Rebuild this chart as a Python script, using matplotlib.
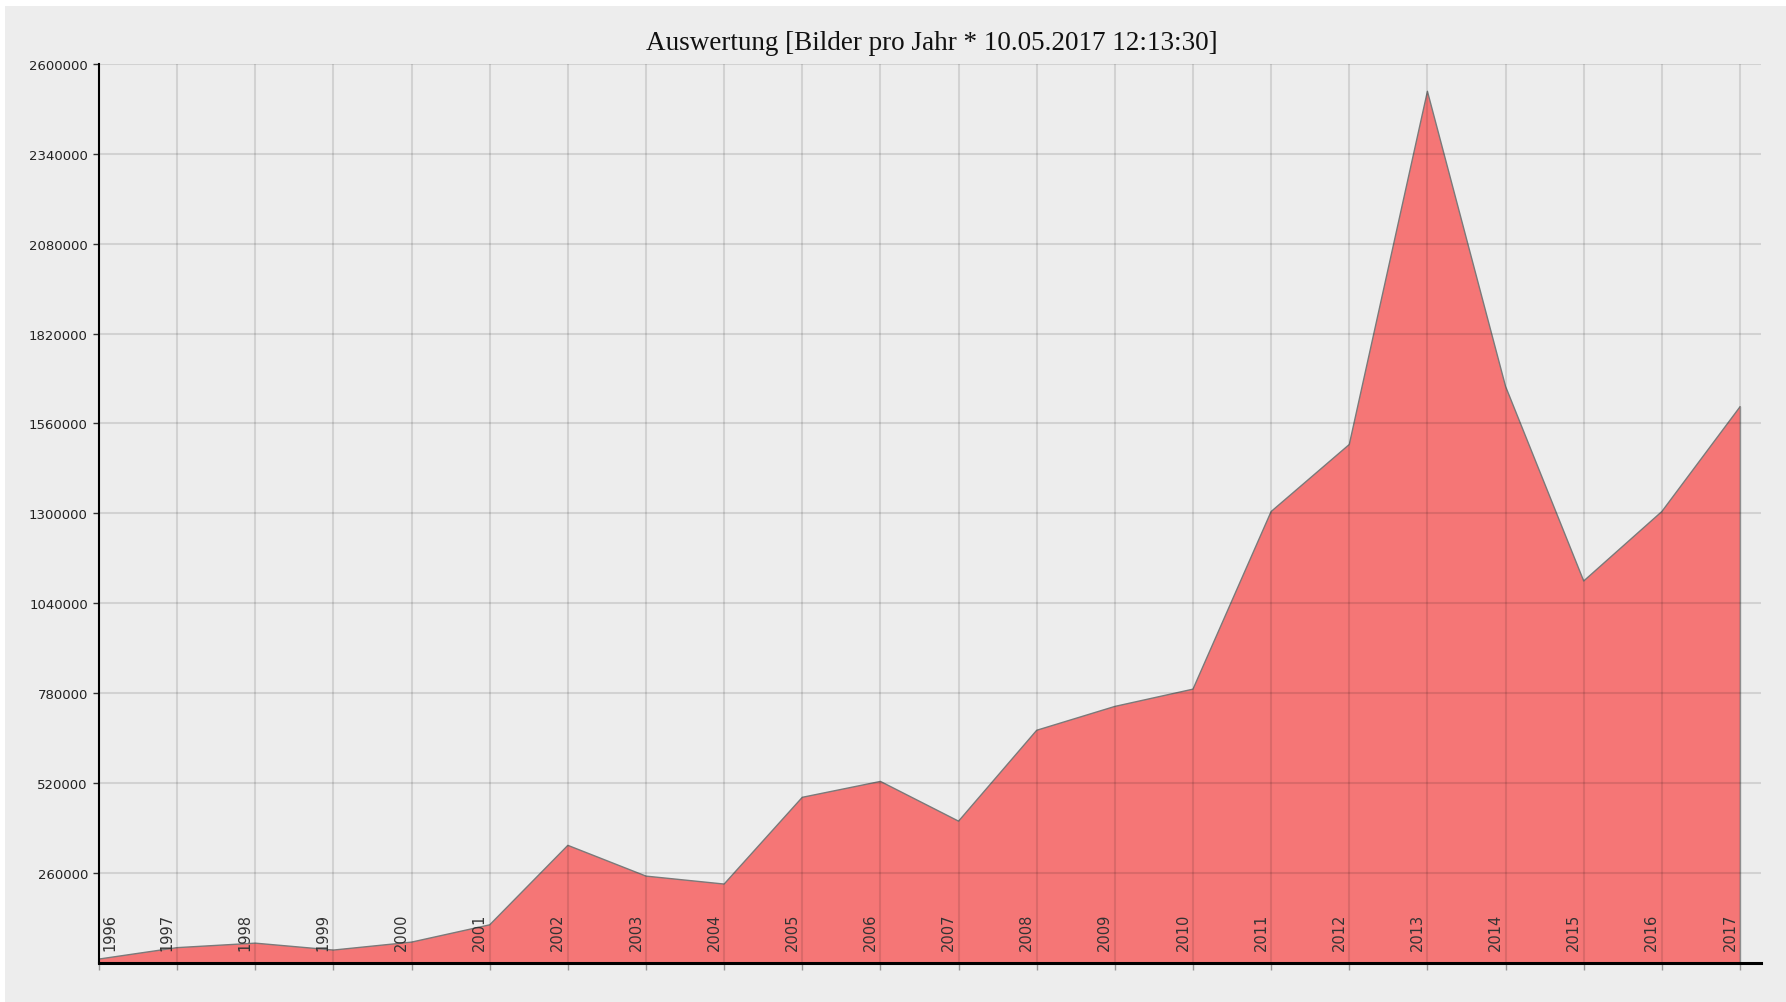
import matplotlib
matplotlib.use("Agg")
import matplotlib.pyplot as plt
import matplotlib.transforms as mtransforms
from matplotlib.patches import Rectangle

years = [1996, 1997, 1998, 1999, 2000, 2001, 2002, 2003, 2004, 2005, 2006,
         2007, 2008, 2009, 2010, 2011, 2012, 2013, 2014, 2015, 2016, 2017]
values = [10000, 43000, 56000, 36000, 59000, 109000, 339000, 250000, 227000,
          478000, 524000, 409000, 672000, 741000, 791000, 1305000, 1499000,
          2521000, 1667000, 1104000, 1305000, 1608000]
yticks = [260000, 520000, 780000, 1040000, 1300000, 1560000, 1820000,
          2080000, 2340000, 2600000]
title = "Auswertung [Bilder pro Jahr * 10.05.2017 12:13:30]"

W, H, DPI = 1786, 1003, 100
fig = plt.figure(figsize=(W / DPI, H / DPI), dpi=DPI, facecolor="white")
fig.patches.append(Rectangle((5 / W, 0), 1, 1 - 7 / H, transform=fig.transFigure,
                             facecolor="#ededed", edgecolor="none", zorder=-10))

ax = fig.add_axes([99 / W, 39.5 / H, (1761 - 99) / W, (963.5 - 65) / H])
ax.set_facecolor("#ededed")
ax.patch.set_alpha(0)

ax.fill_between(years, values, 0, facecolor="#f57676", edgecolor="none", zorder=1)
ax.plot(years, values, color="#7a7a7a", lw=1.0, zorder=2)
ax.plot([years[-1], years[-1]], [0, values[-1]], color="#a0a0a0", lw=1.0, zorder=2)

ax.set_xlim(years[0], years[0] + (1761 - 99) / ((1740 - 99) / (years[-1] - years[0])))
ax.set_ylim(0, yticks[-1])

ax.set_yticks(yticks)
ax.set_yticklabels([str(v) for v in yticks], fontsize=9.5, color="#222222",
                   fontfamily="DejaVu Sans")
ax.set_xticks(years)
ax.set_xticklabels([])
ax.tick_params(axis="y", length=4, width=1, color="#333333", pad=4)
ax.tick_params(axis="x", length=5, width=1, color="#999999")

ax.grid(True, color="black", alpha=0.11, lw=1.5, zorder=3)
ax.set_axisbelow(False)
for g in ax.get_xgridlines() + ax.get_ygridlines():
    g.set_zorder(3)

for s in ["top", "right"]:
    ax.spines[s].set_visible(False)
ax.spines["left"].set_color("black")
ax.spines["left"].set_linewidth(1.5)
ax.spines["bottom"].set_color("black")
ax.spines["bottom"].set_linewidth(2.2)
ax.spines["left"].set_zorder(4)
ax.spines["bottom"].set_zorder(4)

for i, yr in enumerate(years):
    dx = 11 if i == 0 else -10
    tr = ax.transData + mtransforms.ScaledTranslation(dx / DPI, 12 / DPI, fig.dpi_scale_trans)
    ax.text(yr, 0, str(yr), rotation=90, ha="center", va="bottom", transform=tr,
            fontsize=10.5, color="#333333", fontfamily="DejaVu Sans", zorder=5)

fig.text(932 / W, 1 - 44 / H, title, ha="center", va="center", fontsize=19.5,
         fontfamily="Liberation Serif", color="#111111")

fig.savefig("out.png", dpi=DPI, facecolor="white")
